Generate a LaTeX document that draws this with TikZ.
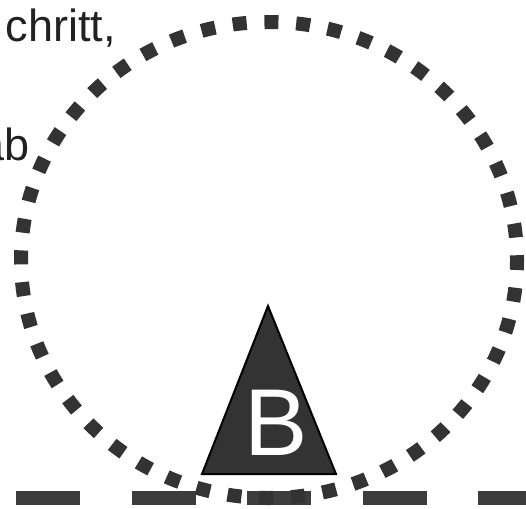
\documentclass[tikz,border=0pt]{standalone}
\usepackage{fontspec}
\setmainfont{Liberation Sans}
\definecolor{ink}{HTML}{333333}
\definecolor{txt}{HTML}{222222}
\begin{document}
\begin{tikzpicture}[x=1pt,y=-1pt,
  dotring/.style={draw=ink, line width=14pt, dash pattern=on 14pt off 17.8pt, dash phase=4pt},
  groundline/.style={draw=ink!95!white, line width=14pt, dash pattern=on 64pt off 51.5pt},
  lbl/.style={inner sep=0pt, text=txt, font=\fontsize{45}{54}\selectfont},
  tri/.style={fill=ink, draw=black, line width=2pt, line join=miter}]
\useasboundingbox (0,0) rectangle (526,508);
\fill[white] (0,0) rectangle (526,508);
% ground dashed line
\coordinate (g1) at (16,498);
\coordinate (g2) at (540,498);
\draw[groundline] (g1) -- (g2);
% dotted ring
\coordinate (c) at (269,260);
\draw[dotring] (c) ellipse [x radius=248, y radius=238];
% triangle
\coordinate (apex) at (268,306);
\coordinate (bl) at (202,474);
\coordinate (br) at (336,474);
\draw[tri] (apex) -- (br) -- (bl) -- cycle;
\node[inner sep=0pt, text=white, anchor=base, font=\fontsize{95}{100}\selectfont] (b) at (276,455) {B};
% cut-off text (cut at the left edge, as in the reference)
\node[lbl, anchor=base east] (t1) at (116,42) {chritt,};
\node[lbl, anchor=base east] (t2) at (30,160) {ab};
\end{tikzpicture}
\end{document}
